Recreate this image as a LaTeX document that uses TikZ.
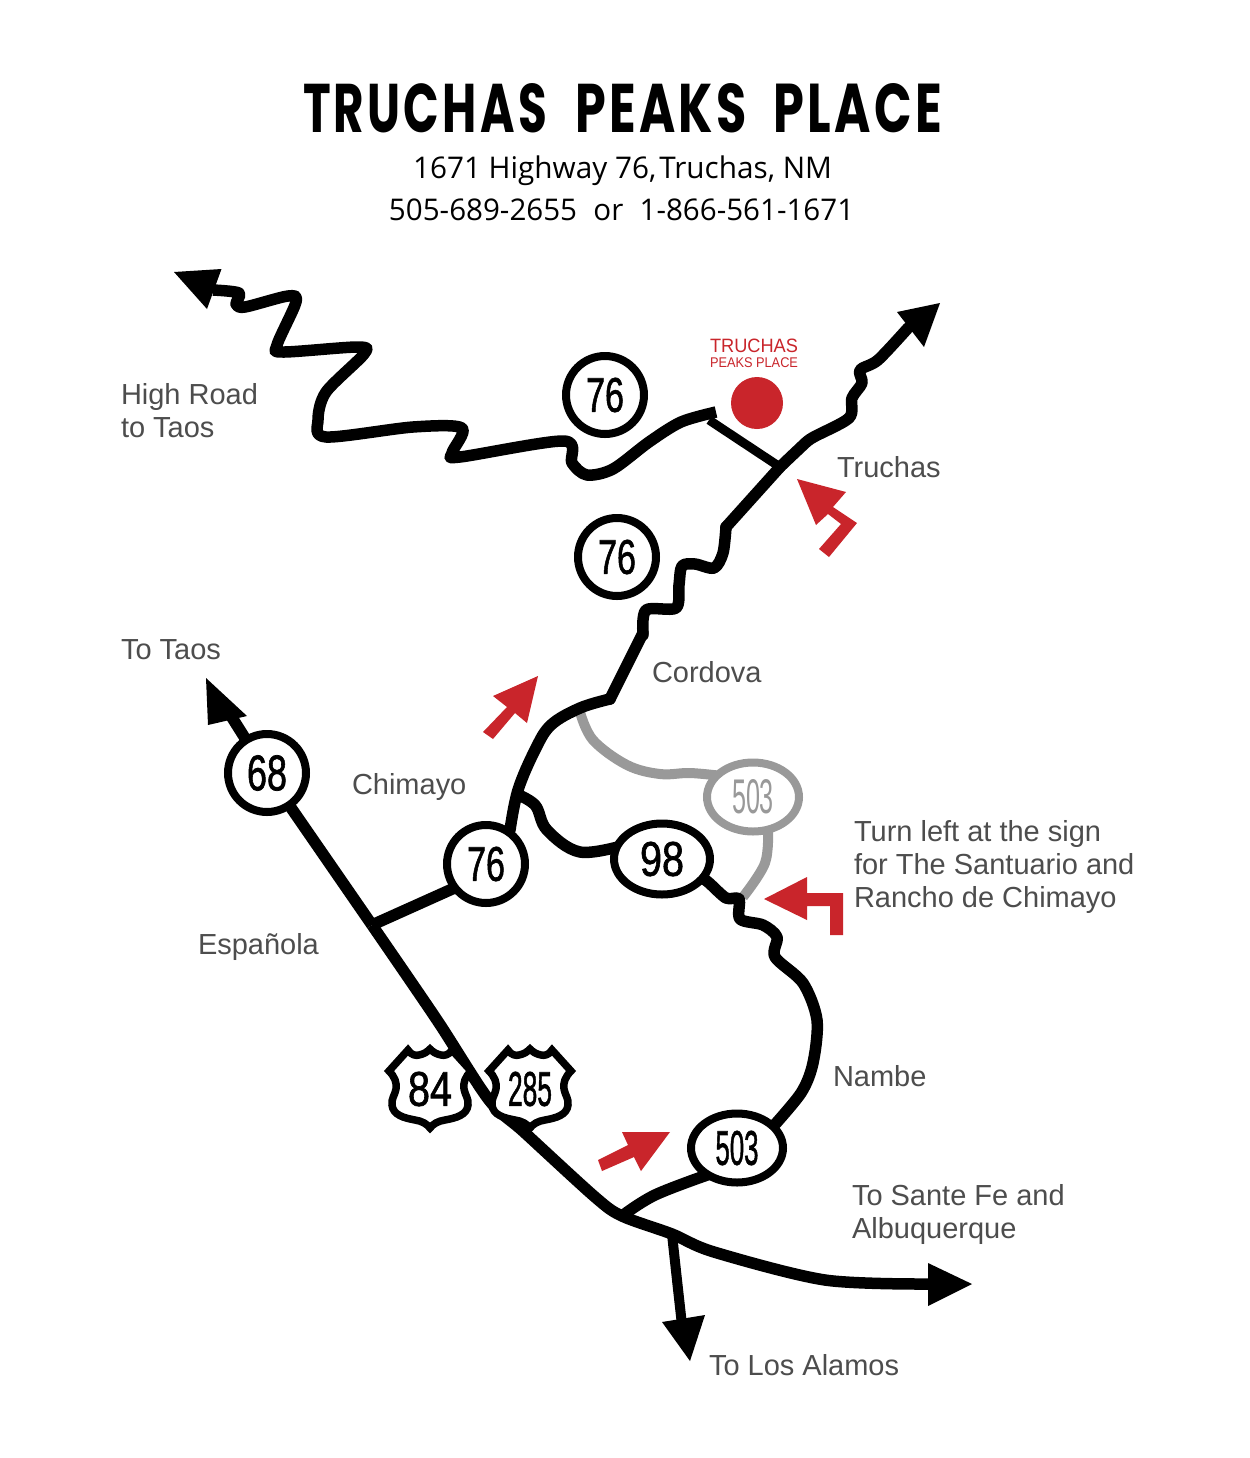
\documentclass[tikz,border=0pt]{standalone}
\usepackage{graphicx}
\usepackage{fontspec}
\setmainfont{Liberation Sans}
\newfontfamily\titlefont[LetterSpace=7]{Poppins}
\newfontfamily\subfont{Open Sans}
\newfontfamily\signfont[FakeBold=1.5]{Liberation Sans}
\usetikzlibrary{shapes.geometric}
\newdimen\pxu \pxu=0.02cm
\definecolor{mapred}{HTML}{C9252B}
\definecolor{mapgray}{HTML}{999999}
\definecolor{labgray}{HTML}{4D4D4D}
\pgfdeclarelayer{bg}
\pgfsetlayers{bg,main}
\tikzset{
  road/.style={draw=black,line width=11.5\pxu,line join=round},
  gray road/.style={draw=mapgray,line width=10\pxu,line join=round},
  redarrow/.style={fill=mapred,draw=none},
  head/.style={fill=black,draw=none},
  lab/.style={anchor=base west,inner sep=0pt,outer sep=0pt,text=labgray,font=\fontsize{16.5}{18.7}\selectfont,align=left},
  plain/.style={anchor=base,inner sep=0pt,outer sep=0pt},
  sign/.style={ellipse,draw=black,fill=white,line width=8\pxu,inner sep=0pt,outer sep=0pt},
  gray sign/.style={sign,draw=mapgray,text=mapgray},
  shieldline/.style={draw=black,fill=white,line width=7.5\pxu,line join=miter},
}
\newcommand{\signtxt}[3]{\resizebox{#1\pxu}{#2\pxu}{\fontsize{20}{20}\selectfont\signfont #3}}
\newcommand{\graysigntxt}[3]{\resizebox{#1\pxu}{#2\pxu}{\fontsize{20}{20}\selectfont #3}}
\newcommand{\titleword}[2]{\resizebox{#1\pxu}{49\pxu}{\titlefont\bfseries\fontsize{40}{40}\selectfont #2}}
\newcommand{\shieldat}[5]{%
  \begin{scope}[shift={(#2,#3)}]
    \draw[shieldline] (-41,-18) -- (-22,-39) .. controls (-19,-34) and (-14,-33) .. (-11,-34)
      .. controls (-6,-35) and (-3,-37) .. (0,-40)
      .. controls (3,-37) and (6,-35) .. (11,-34)
      .. controls (14,-33) and (19,-34) .. (22,-39) -- (41,-18)
      .. controls (35,-12) and (33,-6) .. (34,0)
      .. controls (35,6) and (39,10) .. (38,16)
      .. controls (37,26) and (26,29) .. (15,31)
      .. controls (8,32) and (3,35) .. (0,39)
      .. controls (-3,35) and (-8,32) .. (-15,31)
      .. controls (-26,29) and (-37,26) .. (-38,16)
      .. controls (-39,10) and (-35,6) .. (-34,0)
      .. controls (-33,-6) and (-35,-12) .. (-41,-18) -- cycle;
    \node[inner sep=0pt] (#1) at (0,0) {\signtxt{#4}{34}{#5}};
  \end{scope}}
\begin{document}
\begin{tikzpicture}[x=0.02cm,y=-0.02cm]
\useasboundingbox (0,0) rectangle (1250,1458);
\begin{pgfonlayer}{bg}
\fill[white] (0,0) rectangle (1250,1458);
\end{pgfonlayer}

% title
\node[plain] (title) at (622.5,132) {\titleword{244}{TRUCHAS}\hspace{28\pxu}\titleword{172}{PEAKS}\hspace{26\pxu}\titleword{169}{PLACE}};
\node[plain] (addr) at (622.5,178) {\resizebox{419\pxu}{\height}{\subfont\fontsize{17}{17}\selectfont 1671 Highway 76,{\spaceskip=.1em\relax{} }Truchas, NM}};
\node[plain] (phone) at (621.5,220) {\resizebox{465\pxu}{\height}{\subfont\fontsize{17}{17}\selectfont 505-689-2655\hspace{0.55em}or\hspace{0.55em}1-866-561-1671}};

% signs
\node[sign,minimum width=78\pxu,minimum height=78\pxu] (s76a) at (605,395) {\signtxt{38}{34}{76}};
\node[sign,minimum width=78\pxu,minimum height=78\pxu] (s76b) at (617,557) {\signtxt{38}{34}{76}};
\node[sign,minimum width=78\pxu,minimum height=78\pxu] (s76c) at (486,864) {\signtxt{38}{34}{76}};
\node[sign,minimum width=78\pxu,minimum height=78\pxu] (s68) at (267,773) {\signtxt{40}{35}{68}};
\node[sign,minimum width=96\pxu,minimum height=71\pxu] (s98) at (662,859) {\signtxt{44}{34}{98}};
\node[sign,minimum width=92\pxu,minimum height=69\pxu] (s503) at (737,1148) {\signtxt{43}{34}{503}};
\node[gray sign,minimum width=92\pxu,minimum height=69\pxu] (g503) at (753,797) {\graysigntxt{42}{34}{503}};

% places
\fill[mapred] (757,403) circle (26);
\node[plain,text=mapred] (tr1) at (754,352.5) {\resizebox{88\pxu}{\height}{\fontsize{11}{11}\selectfont TRUCHAS}};
\node[plain,text=mapred] (tr2) at (754,367) {\resizebox{88\pxu}{\height}{\fontsize{8}{8}\selectfont PEAKS PLACE}};

% labels
\node[lab] (l1) at (121,437.5) {High Road\\to Taos};
\node[lab] (l2) at (837,477.5) {Truchas};
\node[lab] (l3) at (121,659.5) {To Taos};
\node[lab] (l4) at (652,682.5) {Cordova};
\node[lab] (l5) at (352,794.5) {Chimayo};
\node[lab] (l6) at (198,954.5) {Española};
\node[lab] (l7) at (854,907.5) {Turn left at the sign\\for The Santuario and\\Rancho de Chimayo};
\node[lab] (l8) at (833,1086.5) {Nambe};
\node[lab] (l9) at (852,1238) {To Sante Fe and\\Albuquerque};
\node[lab] (l10) at (709,1375) {To Los Alamos};

% junctions
\coordinate (jtop) at (780,467);
\coordinate (jesp) at (372,925);
\coordinate (jsf) at (622,1216);
\coordinate (jla) at (672,1234);
\coordinate (jcor) at (610,699);
\coordinate (j98) at (514,793);
\coordinate (jgray1) at (580,712);
\coordinate (jgray2) at (743,897);
\coordinate (e76) at (470,881);

\begin{pgfonlayer}{bg}
% gray roads
\draw[gray road] plot[smooth,tension=.6] coordinates {(jgray1) (593,740) (627,765) (660,774) (690,773) (722,776)};
\draw[gray road] plot[smooth,tension=.6] coordinates {(768,828) (765,863) (jgray2)};

% high road
\draw[road] plot[smooth,tension=.5] coordinates {(213,290) (239,293) (236,304) (245,307) (288,296) (296,302) (277,345) (283,352) (358,347) (364,354) (326,392) (318,420) (326,437) (413,427) (462,428) (452,453) (460,457) (564,441) (572,463) (587,475) (613,469) (649,442) (681,422) (716,412)};
\draw[head] (174,272) -- (221.5,269) -- (207,309) -- cycle;
\draw[road,line width=9\pxu] (709,420) -- (jtop);

% main road north
\draw[road,line cap=round] plot[smooth,tension=.5] coordinates {(908,328) (878,360) (860,370) (862,383) (852,398) (849,418) (812,438) (799,449) (jtop)};
\draw[road,line cap=round] (jtop) -- (726,527);
\draw[road,line cap=round] plot[smooth,tension=.5] coordinates {(726,527) (723,553) (714,568) (695,564) (682,566) (679,585) (676,608) (646,610) (643,635)};
\draw[road,line cap=round] (643,633) -- (jcor);
\draw[head] (940,303) -- (897,312) -- (924,347) -- cycle;
\draw[road,line cap=round] plot[smooth,tension=.6] coordinates {(jcor) (580,708) (551,725) (535,750) (518,790) (510,830)};

% road 98
\draw[road] plot[smooth,tension=.6] coordinates {(j98) (535,805) (547,830) (580,852) (625,845)};
\draw[road] plot[smooth,tension=.5] coordinates {(694,872) (708,882) (726,898) (739,899) (740,919) (763,925) (777,937) (775,957) (803,983) (817,1020) (813,1063) (801,1093) (770,1130)};

% 76 to Espanola
\draw[road] (e76) -- (jesp);

% main N-S road
\draw[head] (206,678) -- (247,716) -- (208,725) -- cycle;
\draw[road] (226,708) -- (s68);
\draw[road] (s68) -- (jesp);
\draw[road] plot[smooth,tension=.5] coordinates {(jesp) (437,1020) (489,1100) (524,1132) (595,1197) (jsf) (jla) (714,1252) (825,1280) (930,1284)};
\draw[head] (972,1284) -- (928,1263) -- (928,1306) -- cycle;
\draw[road] plot[smooth,tension=.6] coordinates {(jsf) (655,1195) (710,1174)};
\draw[road,line width=10\pxu] plot[smooth,tension=.5] coordinates {(jla) (677,1280) (682,1325)};
\draw[head] (690,1361) -- (662,1322) -- (705,1315) -- cycle;
\end{pgfonlayer}

% shields
\shieldat{sh84}{430}{1089}{44}{84}
\shieldat{sh285}{530}{1089}{44}{285}

% red arrows
\fill[redarrow] (538,676) -- (527,723) -- (515,713) -- (493,739) -- (483,732) -- (507,707) -- (493,696) -- cycle;
\fill[redarrow] (764,899) -- (807,877) -- (807,893) -- (843,893) -- (843,935) -- (830,935) -- (830,906) -- (807,906) -- (807,920) -- cycle;
\fill[redarrow] (797,479) -- (846,492) -- (833,507) -- (857,523) -- (829,557) -- (819,549) -- (841,524) -- (828,514) -- (816,525) -- cycle;
\fill[redarrow] (670,1132) -- (622,1132) -- (628,1145) -- (598,1160) -- (602,1171) -- (634,1157) -- (641,1171) -- cycle;
\end{tikzpicture}
\end{document}
